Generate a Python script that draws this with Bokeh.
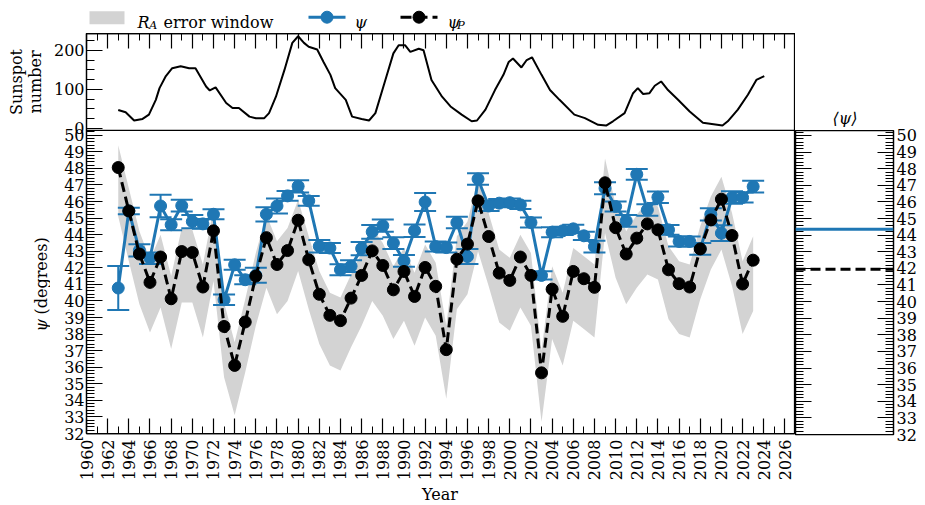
import math
from bokeh.plotting import figure
from bokeh.layouts import row, column
from bokeh.models import (Range1d, LinearAxis, FixedTicker, SingleIntervalTicker, Spacer,
                          Whisker, TeeHead, ColumnDataSource, Span)
from bokeh.embed import file_html
from bokeh.resources import INLINE
from bokeh.core.properties import value

# ---------------- data ----------------
years = list(range(1963, 2024))

psi = [40.78, 45.43, 43.05, 42.58, 45.73, 44.60, 45.75, 44.79, 44.65, 45.23,
       40.07, 42.18, 41.28, 41.55, 45.23, 45.73, 46.34, 46.92, 46.04, 43.30,
       43.19, 41.88, 42.10, 43.16, 44.17, 44.54, 43.49, 42.42, 44.24, 45.97,
       43.28, 43.22, 44.73, 42.68, 47.36, 45.73, 45.90, 45.93, 45.80, 44.73,
       41.54, 44.15, 44.23, 44.35, 43.93, 43.28, 46.80, 45.70, 44.83, 47.64,
       45.49, 46.26, 44.29, 43.59, 43.59, 43.14, 45.23, 44.09, 46.24, 46.24,
       46.90]

psi_err = [1.33, 0.20, 0.37, 0.35, 0.68, 0.33, 0.35, 0.40, 0.30, 0.30,
           0.32, 0.30, 0.27, 0.45, 0.43, 0.45, 0.30, 0.37, 0.30, 0.38,
           0.30, 0.33, 0.35, 0.40, 0.42, 0.37, 0.36, 0.35, 0.38, 0.54,
           0.30, 0.30, 0.35, 0.45, 0.35, 0.30, 0.25, 0.25, 0.25, 0.30,
           0.25, 0.30, 0.25, 0.25, 0.25, 0.35, 0.36, 0.30, 0.35, 0.32,
           0.35, 0.35, 0.30, 0.30, 0.30, 0.35, 0.37, 0.48, 0.38, 0.30,
           0.36]

psi_p = [48.05, 45.43, 42.83, 41.12, 42.65, 40.13, 42.98, 42.92, 40.84, 44.23,
         38.46, 36.11, 38.73, 41.50, 43.82, 42.20, 43.04, 44.87, 42.48, 40.40,
         39.13, 38.81, 40.17, 41.54, 43.02, 42.14, 40.67, 41.78, 40.27, 42.02,
         40.88, 37.06, 42.52, 43.43, 46.04, 43.89, 41.68, 41.24, 42.65, 41.54,
         35.66, 40.71, 39.07, 41.78, 41.34, 40.82, 47.13, 44.42, 42.83, 43.79,
         44.65, 44.29, 41.88, 41.04, 40.84, 43.14, 44.89, 46.14, 43.95, 41.02,
         42.46]

band_hi = [49.4, 46.8, 44.2, 42.5, 44.0, 41.5, 44.4, 44.3, 42.2, 45.6,
           39.9, 37.5, 40.1, 42.9, 45.2, 43.6, 44.4, 46.1, 43.9, 41.8,
           40.5, 40.2, 41.6, 42.9, 44.4, 43.5, 42.1, 43.2, 41.7, 43.4,
           42.3, 38.5, 43.9, 44.8, 47.4, 45.3, 43.1, 42.6, 44.0, 42.9,
           37.0, 42.1, 40.5, 43.2, 42.7, 42.2, 48.6, 45.8, 44.2, 45.2,
           46.0, 45.7, 43.3, 42.4, 42.2, 44.5, 46.3, 47.5, 45.3, 42.4,
           43.9]

band_lo = [45.1, 42.4, 39.8, 38.1, 39.6, 37.1, 39.9, 39.9, 37.8, 41.2,
           35.4, 33.1, 35.7, 38.5, 40.8, 39.2, 40.0, 41.8, 39.5, 37.4,
           36.1, 35.8, 37.2, 38.5, 40.0, 39.1, 37.7, 38.8, 37.3, 39.0,
           37.9, 34.1, 39.5, 40.4, 43.0, 40.9, 38.7, 38.2, 39.6, 38.5,
           32.7, 37.7, 36.1, 38.8, 38.3, 37.8, 44.1, 41.4, 39.8, 40.8,
           41.6, 41.3, 38.9, 38.0, 37.8, 40.1, 41.9, 43.1, 40.9, 38.0,
           39.4]

ss_year = [1963.0, 1963.7, 1964.5, 1965.3, 1965.9, 1966.55, 1966.9, 1967.5, 1968.1, 1968.9,
           1969.7, 1970.3, 1971.3, 1971.65, 1972.2, 1973.2, 1973.8, 1974.4, 1975.4, 1976.0,
           1976.8, 1977.25, 1977.9, 1978.7, 1979.45, 1980.0, 1980.55, 1981.0, 1981.8, 1982.4,
           1983.05, 1983.5, 1984.5, 1985.1, 1986.0, 1986.7, 1987.3, 1988.2, 1989.0, 1989.5,
           1990.1, 1990.6, 1991.4, 1991.85, 1992.6, 1993.6, 1994.4, 1995.45, 1996.4, 1996.9,
           1997.7, 1998.6, 1999.4, 1999.9, 2000.3, 2001.1, 2001.6, 2002.1, 2003.0, 2003.8,
           2004.7, 2006.1, 2007.1, 2008.35, 2009.1, 2009.75, 2010.85, 2011.65, 2012.1, 2012.6,
           2013.2, 2013.7, 2014.3, 2014.95, 2015.9, 2017.0, 2018.25, 2020.1, 2020.6, 2021.55,
           2022.5, 2023.3, 2023.6, 2024.05]
ss_val = [47, 41, 20, 24, 35, 73, 103, 134, 154, 159,
          154, 154, 107, 97, 105, 65, 52, 52, 30, 26,
          26, 39, 81, 149, 219, 236, 219, 209, 202, 170,
          137, 103, 73, 30, 24, 20, 39, 120, 192, 213,
          213, 196, 204, 200, 124, 81, 56, 35, 18, 20,
          48, 98, 137, 170, 179, 156, 175, 182, 137, 98,
          73, 35, 26, 9, 7, 18, 39, 90, 103, 88,
          90, 109, 120, 98, 73, 43, 14, 7, 18, 48,
          86, 124, 128, 134]

psi_mean = 44.35
psi_p_mean = 41.95

psi_major_ticks = list(range(32, 51))
ss_major_ticks = [0, 100, 200]

# ---------------- styling / geometry (pixels) ----------------
FONT = "DejaVu Serif"
FS = "16px"
BLUE = "#1f77b4"
GRAY = "#d3d3d3"

MARGIN = 8
PAGE_H = 505
STRIP_W = 42       # strip that carries the rotated y titles
LEFT = 76          # distance from layout left edge to the frame
FRAME_W = 711
TOP_H = 97         # sunspot panel height
MAIN_H = 304       # psi panel height
LEG_H = 23
BOTTOM = 49
MAIN_FIG_H = 2 + TOP_H + MAIN_H + BOTTOM
YEAR_H = PAGE_H - MARGIN - LEG_H - MAIN_FIG_H
RIGHT_W = 99
RIGHT_BORDER = 25
RIGHT_TOP = 3
TITLE_H = 22

X_LO, X_HI = 1960, 2027
PSI_LO, PSI_HI = 32.0, 50.3
SS_LO, SS_HI = -5.0, 243.0
psi_per_px = (PSI_HI - PSI_LO) / MAIN_H
ss_per_px = (SS_HI - SS_LO) / TOP_H
Y_TOP = PSI_HI + TOP_H * psi_per_px
SS_BOTTOM = SS_LO - MAIN_H * ss_per_px


def ss_to_y(v):
    return round(PSI_HI + (v - SS_LO) / ss_per_px * psi_per_px, 6)


def style_axis(ax, major_in=16, minor_in=8, labels=True):
    ax.major_tick_in = major_in
    ax.major_tick_out = 0
    ax.minor_tick_in = minor_in
    ax.minor_tick_out = 0
    ax.major_tick_line_color = "black"
    ax.minor_tick_line_color = "black"
    ax.major_tick_line_width = 1.2
    ax.minor_tick_line_width = 1
    ax.axis_line_color = "black"
    ax.axis_line_width = 1.25
    if labels:
        ax.major_label_text_font = FONT
        ax.major_label_text_font_size = FS
        ax.major_label_text_color = "black"
    else:
        ax.major_label_text_font_size = "0px"
        ax.major_label_text_color = None
        ax.major_label_standoff = 0


common = dict(toolbar_location=None, output_backend="svg", title=None, frame_align=False)


def text_fig(w, h):
    f = figure(width=w, height=h, x_range=Range1d(0, w), y_range=Range1d(0, h), min_border=0,
               x_axis_location=None, y_axis_location=None, outline_line_color=None, **common)
    f.xgrid.visible = False
    f.ygrid.visible = False
    return f


def txt(p, x, y, s, size="16px", style="normal", align="left", baseline="alphabetic", angle=0.0):
    p.text(x=[x], y=[y], text=[s], angle=angle, text_font=value(FONT), text_font_style=style,
           text_font_size=size, text_baseline=baseline, text_align=align, text_color="black")


# ---------------- legend row ----------------
leg = text_fig(LEFT + FRAME_W, LEG_H)
leg.rect(x=[98.5], y=[13.7], width=35, height=13, fill_color=GRAY, line_color=None)
txt(leg, 129, 9.5, "R", style="italic")
txt(leg, 140.5, 6.5, "A", size="11.5px", style="italic")
txt(leg, 155, 9.5, "error window")
leg.line(x=[300, 337], y=[14.3, 14.3], line_color=BLUE, line_width=3)
leg.scatter(x=[318.5], y=[14.3], size=12, fill_color=BLUE, line_color=BLUE)
txt(leg, 346, 9.5, "ψ", style="italic")
leg.line(x=[392, 429], y=[14.3, 14.3], line_color="black", line_width=3, line_dash="11 5")
leg.scatter(x=[410.5], y=[14.3], size=12, fill_color="black", line_color="black")
txt(leg, 439, 9.5, "ψ", style="italic")
txt(leg, 448.5, 6.5, "P", size="11.5px", style="italic")

# ---------------- main figure (sunspot panel on top + psi panel) ----------------
main = figure(width=LEFT - STRIP_W + FRAME_W, height=MAIN_FIG_H,
              x_range=Range1d(X_LO, X_HI), y_range=Range1d(PSI_LO, Y_TOP),
              min_border_left=LEFT - STRIP_W, min_border_right=0, min_border_top=2,
              min_border_bottom=BOTTOM,
              outline_line_color="black", outline_line_width=1.25, **common)
main.extra_y_ranges = {"ss": Range1d(SS_BOTTOM, SS_HI)}
main.xgrid.visible = False
main.ygrid.visible = False

xb = main.xaxis[0]
xb.ticker = SingleIntervalTicker(interval=2, num_minor_ticks=2)
style_axis(xb, 15, 7)
xb.major_label_orientation = math.pi / 2
xb.major_label_standoff = 6

yl = main.yaxis[0]
major = [float(v) for v in psi_major_ticks] + [ss_to_y(v) for v in ss_major_ticks]
minor = [round(PSI_LO + 0.2 * k, 6) for k in range(int(round((50.2 - PSI_LO) / 0.2)) + 1)]
minor += [ss_to_y(25 * k) for k in range(10)]
yl.ticker = FixedTicker(ticks=major, minor_ticks=minor)
overrides = {float(v): str(v) for v in psi_major_ticks}
overrides.update({ss_to_y(v): str(v) for v in ss_major_ticks})
yl.major_label_overrides = overrides
style_axis(yl, 16, 8)
yl.major_label_standoff = 2

xt = LinearAxis(ticker=SingleIntervalTicker(interval=2, num_minor_ticks=2))
style_axis(xt, 15, 7, labels=False)
main.add_layout(xt, "above")

main.add_layout(Span(location=PSI_HI, dimension="width", line_color="black", line_width=1.25))

src = ColumnDataSource(dict(
    year=years, psi=psi, psi_p=psi_p, band_lo=band_lo, band_hi=band_hi,
    lo=[p - e for p, e in zip(psi, psi_err)], hi=[p + e for p, e in zip(psi, psi_err)]))

main.varea(x="year", y1="band_lo", y2="band_hi", source=src, fill_color=GRAY, level="underlay")
whisk = Whisker(source=src, base="year", lower="lo", upper="hi", level="underlay",
                line_color=BLUE, line_width=2,
                upper_head=TeeHead(size=22, line_color=BLUE, line_width=2),
                lower_head=TeeHead(size=22, line_color=BLUE, line_width=2))
main.add_layout(whisk)
main.line("year", "psi", source=src, line_color=BLUE, line_width=3)
main.scatter("year", "psi", source=src, size=12, fill_color=BLUE, line_color=BLUE)
main.line("year", "psi_p", source=src, line_color="black", line_width=3, line_dash="10 5")
main.scatter("year", "psi_p", source=src, size=12, fill_color="black", line_color="black")
main.line(ss_year, ss_val, y_range_name="ss", line_color="black", line_width=2)

# ---------------- strip with the y-axis titles ----------------
strip = text_fig(STRIP_W, MAIN_FIG_H)
strip_bottom_page = MARGIN + LEG_H + MAIN_FIG_H      # page y of the strip's bottom edge
top_mid_page = MARGIN + LEG_H + 2 + TOP_H / 2        # middle of the sunspot panel
txt(strip, 16 - MARGIN, strip_bottom_page - top_mid_page, "Sunspot",
    align="center", baseline="middle", angle=math.pi / 2)
txt(strip, 35 - MARGIN, strip_bottom_page - top_mid_page, "number",
    align="center", baseline="middle", angle=math.pi / 2)
txt(strip, 41 - MARGIN, strip_bottom_page - 331, "ψ",
    style="italic", align="left", baseline="middle", angle=math.pi / 2)
txt(strip, 41 - MARGIN, strip_bottom_page - 314, "(degrees)",
    align="left", baseline="middle", angle=math.pi / 2)

# x-axis title row
year_fig = text_fig(LEFT + FRAME_W, YEAR_H)
txt(year_fig, LEFT + FRAME_W / 2, PAGE_H - 494, "Year", align="center", baseline="middle")

# ---------------- right panel (means) ----------------
right = figure(width=RIGHT_W + RIGHT_BORDER, height=RIGHT_TOP + MAIN_H + 10,
               x_range=Range1d(0, 1), y_range=Range1d(PSI_LO, PSI_HI),
               x_axis_location=None, y_axis_location="right",
               min_border_left=0, min_border_right=RIGHT_BORDER, min_border_top=RIGHT_TOP,
               min_border_bottom=10, outline_line_color="black", outline_line_width=1.25,
               **common)
right.xgrid.visible = False
right.ygrid.visible = False
yr = right.yaxis[0]
yr.ticker = SingleIntervalTicker(interval=1, num_minor_ticks=5)
style_axis(yr, 16, 8)
yr.major_label_standoff = 3
yl2 = LinearAxis(ticker=SingleIntervalTicker(interval=1, num_minor_ticks=5))
style_axis(yl2, 16, 8, labels=False)
right.add_layout(yl2, "left")
right.add_layout(Span(location=psi_mean, dimension="width", line_color=BLUE, line_width=3))
right.add_layout(Span(location=psi_p_mean, dimension="width", line_color="black",
                      line_width=3, line_dash="10 5"))

ttl = text_fig(RIGHT_W + RIGHT_BORDER, TITLE_H)
txt(ttl, RIGHT_W / 2, 9, "⟨ψ⟩", style="italic", align="center", baseline="middle")

spacer_h = (130 - MARGIN) - RIGHT_TOP - TITLE_H
layout = column(
    Spacer(width=900, height=MARGIN),
    row(Spacer(width=MARGIN, height=10),
        column(leg, row(strip, main), year_fig),
        column(Spacer(width=RIGHT_W + RIGHT_BORDER, height=spacer_h), ttl, right)))

open("out.html", "w").write(file_html(layout, INLINE))
